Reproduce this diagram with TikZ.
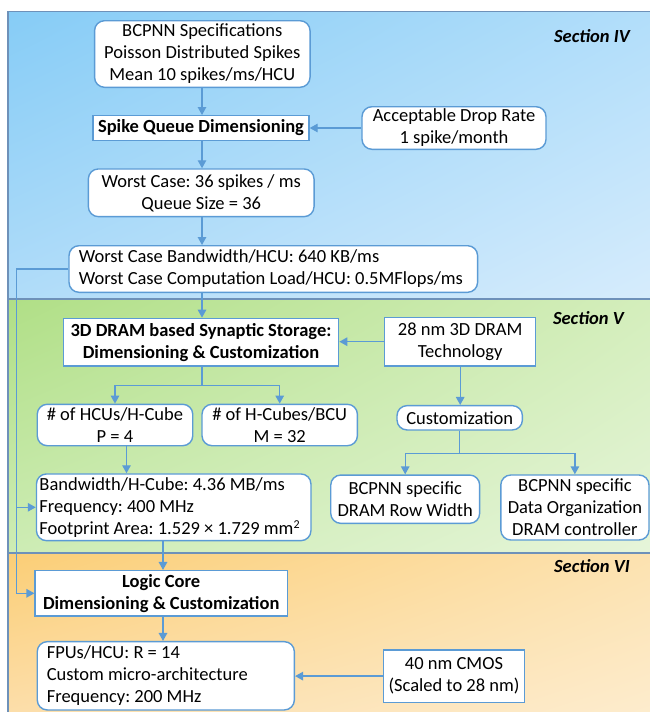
\documentclass[tikz,border=0pt]{standalone}
\usepackage{fontspec}
\setmainfont{Carlito}
\usetikzlibrary{arrows.meta,positioning,shadings}
\definecolor{boxc}{RGB}{91,155,213}
\definecolor{panc}{RGB}{110,145,185}
\definecolor{bul}{RGB}{134,204,246}
\definecolor{bur}{RGB}{178,222,250}
\definecolor{bll}{RGB}{176,220,249}
\definecolor{blr}{RGB}{214,236,252}
\definecolor{gul}{RGB}{176,223,134}
\definecolor{gur}{RGB}{212,238,188}
\definecolor{gll}{RGB}{205,236,180}
\definecolor{glr}{RGB}{230,245,218}
\definecolor{oul}{RGB}{251,206,118}
\definecolor{our}{RGB}{252,226,176}
\definecolor{oll}{RGB}{252,222,170}
\definecolor{olr}{RGB}{253,236,205}
\newcommand\lline[1]{\mbox{\spaceskip=0pt\xspaceskip=0pt\relax #1}}
\tikzset{
  base/.style={font=\fontsize{18.5}{22}\selectfont\frenchspacing, text=black, inner sep=0pt, line width=1.4pt, draw=boxc, fill=white, align=center},
  rbox/.style={base, rounded corners=10pt},
  sbox/.style={base},
  bbox/.style={base, font=\fontsize{18.5}{22}\selectfont\frenchspacing\bfseries},
  conn/.style={draw=boxc, line width=1.4pt},
  arr/.style={conn, -{Triangle[length=8pt,width=8.5pt]}},
  seclab/.style={font=\fontsize{18.5}{22}\selectfont\bfseries\itshape, anchor=east, inner sep=0pt},
  panel/.style={draw=panc, line width=1.4pt}
}
\begin{document}
\begin{tikzpicture}[x=1pt,y=-1pt]
\useasboundingbox (0,0) rectangle (650,712);
% panels
\shade[upper left=bul, upper right=bur, lower left=bll, lower right=blr] (8,11.5) rectangle (651,299);
\shade[upper left=gul, upper right=gur, lower left=gll, lower right=glr] (8,299) rectangle (651,553);
\shade[upper left=oul, upper right=our, lower left=oll, lower right=olr] (8,553) rectangle (651,713);
\draw[panel] (8,11.5) rectangle (651,299);
\draw[panel] (8,299) rectangle (651,553);
\draw[panel] (8,553) rectangle (651,713);
\node[seclab] (s4) at (630,36) {Section IV};
\node[seclab] (s5) at (624,318) {Section V};
\node[seclab] (s6) at (630,566) {Section VI};
% Section IV
\node[rbox, minimum width=215.5, minimum height=66.6] (bcpnn) at (202.3,54) {BCPNN Specifications\\Poisson Distributed Spikes\\Mean 10 spikes/ms/HCU};
\node[bbox, minimum width=216, minimum height=24.6] (sqd) at (201,128) {Spike Queue Dimensioning};
\node[rbox, minimum width=184, minimum height=42.6] (adr) at (454,128) {Acceptable Drop Rate\\1 spike/month};
\node[rbox, minimum width=225.7, minimum height=47.7] (wc) at (201.2,192.8) {Worst Case: 36 spikes / ms\\Queue Size = 36};
\node[rbox, minimum width=408.6, minimum height=46.6, text width=389, align=left, inner xsep=9.8pt] (bw) at (273.3,269) {\lline{Worst Case Bandwidth/HCU: 640 KB/ms}\\\lline{Worst Case Computation Load/HCU: 0.5MFlops/ms}};
% Section V
\node[bbox, minimum width=275.3, minimum height=47.7] (dram) at (201,342.2) {3D DRAM based Synaptic Storage:\\Dimensioning \& Customization};
\node[sbox, minimum width=151, minimum height=48.7] (t28) at (460.2,341.7) {28 nm 3D DRAM\\Technology};
\node[rbox, minimum width=155.5, minimum height=41.4] (hcu) at (115,425) {\# of HCUs/H-Cube\\P = 4};
\node[rbox, minimum width=155.4, minimum height=41.4] (hcube) at (279.7,425) {\# of H-Cubes/BCU\\M = 32};
\node[rbox, minimum width=125.4, minimum height=24.3] (cust) at (459.7,417.8) {Customization};
\node[rbox, minimum width=148.9, minimum height=48.3] (row) at (405.2,499.2) {BCPNN specific\\DRAM Row Width};
\node[rbox, minimum width=148.2, minimum height=65] (dorg) at (574.9,507.5) {BCPNN specific\\Data Organization\\DRAM controller};
\node[rbox, minimum width=274.5, minimum height=66.7, text width=268.5, align=left, inner xsep=3pt] (bwh) at (173.7,507.3) {\lline{Bandwidth/H-Cube: 4.36 MB/ms}\\\lline{Frequency: 400 MHz}\\\lline{Footprint Area: 1.529 × 1.729 mm\raisebox{0.7ex}{\fontsize{12}{12}\selectfont 2}}};
% Section VI
\node[bbox, minimum width=252.1, minimum height=45.3] (logic) at (161.2,593.3) {Logic Core\\Dimensioning \& Customization};
\node[rbox, minimum width=257.1, minimum height=68.3, text width=238, align=left, inner xsep=9.5pt] (fpu) at (165.8,675.8) {\lline{FPUs/HCU: R = 14}\\\lline{Custom micro-architecture}\\\lline{Frequency: 200 MHz}};
\node[sbox, minimum width=141, minimum height=52.3] (t40) at (454,676.1) {40 nm CMOS\\(Scaled to 28 nm)};
% helper coordinates
\coordinate (lx) at (16.6,0);
\coordinate (c202) at (202,0);
\coordinate (c126) at (126.5,0);
\coordinate (c163) at (163,0);
% connectors
\draw[arr] (bcpnn.south -| c202) -- (sqd.north -| c202);
\draw[arr] (adr.west) -- (sqd.east);
\draw[arr] (sqd.south -| c202) -- (wc.north -| c202);
\draw[arr] (wc.south -| c202) -- (bw.north -| c202);
\draw[arr] (bw.south -| c202) -- (dram.north -| c202);
\draw[arr] (t28.west) -- (t28.west -| dram.east);
\draw[conn] (dram.south -| c202) -- ++(0,19) coordinate (s1);
\draw[arr] (s1) -| (hcu.north);
\draw[arr] (s1) -| (hcube.north);
\draw[arr] (t28.south) -- (t28.south |- cust.north);
\draw[conn] (cust.south) -- ++(0,22.7) coordinate (s2);
\draw[arr] (s2) -| (row.north);
\draw[arr] (s2) -| (dorg.north);
\draw[arr] (hcu.south -| c126) -- (bwh.north -| c126);
\draw[arr] (bwh.south -| c163) -- (logic.north -| c163);
\draw[arr] (logic.south -| c163) -- (fpu.north -| c163);
\draw[arr] (t40.west) -- (t40.west -| fpu.east);
\draw[arr] (bw.west) -- (bw.west -| lx) |- (logic.west);
\draw[arr] (bwh.west -| lx) -- (bwh.west);
\end{tikzpicture}
\end{document}
